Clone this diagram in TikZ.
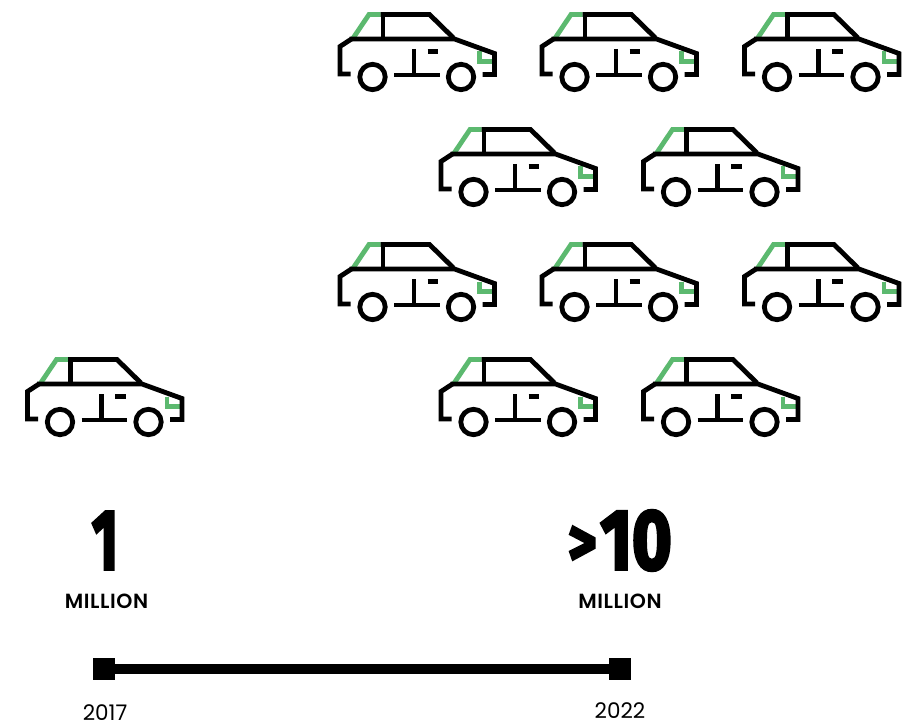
\documentclass[tikz,border=0pt]{standalone}
\usepackage{fontspec}
\setmainfont{Poppins}
\newfontfamily\bigfont{Fira Sans}[UprightFont=*-Bold,FakeBold=4]
\newfontfamily\unitfont{Poppins}[UprightFont=*-SemiBold,LetterSpace=3]
\definecolor{cargreen}{HTML}{5CB96F}
\tikzset{
  carline/.style={line width=4.8pt,black,line cap=butt,line join=miter},
  greenline/.style={line width=4.8pt,cargreen,line cap=butt,line join=miter},
  bignum/.style={inner sep=0pt,font=\bigfont\fontsize{85}{85}\selectfont},
  unitlabel/.style={inner sep=0pt,font=\unitfont\fontsize{20.5}{20.5}\selectfont},
  yearlabel/.style={inner sep=0pt,font=\fontsize{21.5}{21.5}\selectfont},
  endbox/.style={fill=black,minimum size=22pt,inner sep=0pt,draw=none},
  pics/carpic/.style={code={
    \draw[greenline] (40,384) -- (56.5,359.5) -- (68,359.5);
    \draw[greenline] (167,396.5) -- (167,406.3) -- (179.5,406.3);
    \draw[carline] (68,359.5) -- (117,359.5) -- (141,383);
    \draw[carline] (70.5,359.5) -- (70.5,383);
    \draw[carline] (37,384) -- (142,384) -- (182,398.5) -- (182,419.5) -- (170,419.5);
    \draw[carline] (39,384) -- (27.5,391.5) -- (27.5,419) -- (38,419);
    \draw[carline] (60,422) circle (12.7);
    \draw[carline] (148.5,422) circle (12.7);
    \draw[carline] (81.5,420) -- (127,420);
    \draw[carline] (101.5,394) -- (101.5,420);
    \draw[carline] (115,396.5) -- (125.5,396.5);
  }}
}
\begin{document}
\begin{tikzpicture}[x=1pt,y=-1pt]
\useasboundingbox (0,0) rectangle (917,722);
\fill[white] (0,0) rectangle (917,722);
\pic at (0,0) {carpic};
\foreach \dx/\dy in {312.5/-345,514.5/-345,717/-345,413.5/-230,616/-230,312.5/-115,514.5/-115,717/-115,413.5/0,616/0}
  \pic at (\dx,\dy) {carpic};
\node[bignum,anchor=center] (one) at (105,540.5) {\scalebox{0.66}[1]{1}};
\node[bignum,anchor=center] (ten) at (620,540.5) {\scalebox{0.64}[0.8]{\raisebox{0.05em}{>}}\kern4pt\scalebox{0.8}[1]{10}};
\node[unitlabel] (millA) at (106.5,601) {MILLION};
\node[unitlabel] (millB) at (620,601) {MILLION};
\node[endbox] (start) at (104,669) {};
\node[endbox] (end) at (620,669) {};
\draw[line width=10pt] (start) -- (end);
\node[yearlabel] (yA) at (105,712.5) {2017};
\node[yearlabel] (yB) at (620,711) {2022};
\end{tikzpicture}
\end{document}
